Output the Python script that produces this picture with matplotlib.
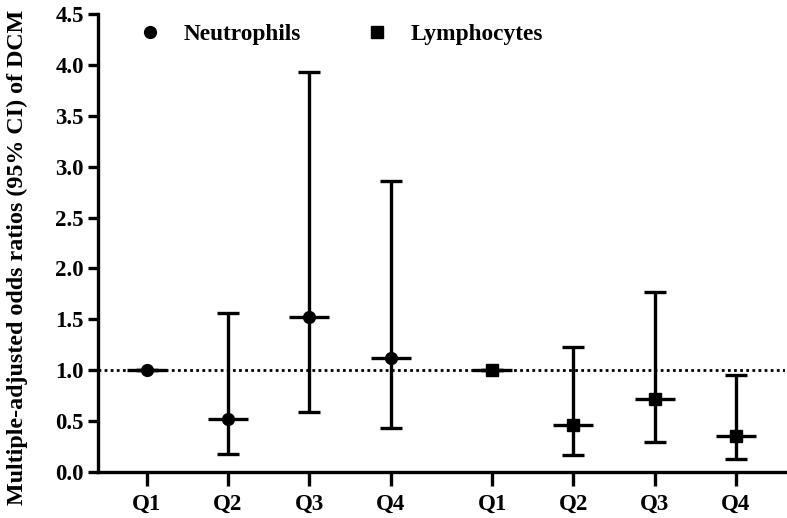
import matplotlib.pyplot as plt
import numpy as np

plt.rcParams['font.family'] = ['Liberation Serif', 'DejaVu Serif']
plt.rcParams['font.weight'] = 'bold'

quartiles = ['Q1', 'Q2', 'Q3', 'Q4']
neu_or = [1.00, 0.52, 1.52, 1.12]
neu_lo = [1.00, 0.18, 0.59, 0.43]
neu_hi = [1.00, 1.56, 3.93, 2.86]
lym_or = [1.00, 0.46, 0.72, 0.35]
lym_lo = [1.00, 0.17, 0.29, 0.13]
lym_hi = [1.00, 1.23, 1.77, 0.95]

x_neu = np.arange(4)
x_lym = np.arange(4) + 4.25

fig = plt.figure(figsize=(7.87, 5.18), dpi=100)
ax = fig.add_axes([0.1245, 0.0888, 0.8725, 0.8842])

# reference line at OR = 1
ax.axhline(1.0, color='black', linestyle=(0, (1, 1.2)), linewidth=2, zorder=1)

def draw(x, m, lo, hi, marker, label):
    m = np.array(m)
    err = [m - np.array(lo), np.array(hi) - m]
    ax.errorbar(x, m, yerr=err, fmt='none', ecolor='black', elinewidth=2.4,
                capsize=8.2, capthick=2.4, zorder=2)
    ax.plot(x, m, linestyle='none', marker='_', markersize=29, markeredgewidth=2.4,
            color='black', zorder=3)
    ax.plot(x, m, linestyle='none', marker=marker, markersize=8.5, color='black',
            zorder=4, label=label)

draw(x_neu, neu_or, neu_lo, neu_hi, 'o', 'Neutrophils')
draw(x_lym, lym_or, lym_lo, lym_hi, 's', 'Lymphocytes')

ax.set_xlim(-0.6, 7.85)
ax.set_ylim(0, 4.5)
yt = np.arange(0, 4.51, 0.5)
ax.set_yticks(yt)
ax.set_yticklabels([f'{v:.1f}' for v in yt])
ax.set_xticks(np.concatenate([x_neu, x_lym]))
ax.set_xticklabels(quartiles + quartiles)

for s in ['top', 'right']:
    ax.spines[s].set_visible(False)
for s in ['left', 'bottom']:
    ax.spines[s].set_linewidth(2.4)
ax.tick_params(axis='y', width=2.4, length=7, labelsize=16.5, pad=3)
ax.tick_params(axis='x', width=2.4, length=10, labelsize=16.5, pad=6)

ax.set_ylabel('Multiple-adjusted odds ratios (95% CI) of DCM', fontsize=17.3,
              fontweight='bold')
ax.yaxis.set_label_coords(-0.102, 0.468)

ax.legend(loc='upper left', bbox_to_anchor=(0.028, 1.025), ncol=2, frameon=False,
          fontsize=16.8, handletextpad=0.95, columnspacing=2.75, handlelength=1)

fig.savefig('out.png', dpi=100)
